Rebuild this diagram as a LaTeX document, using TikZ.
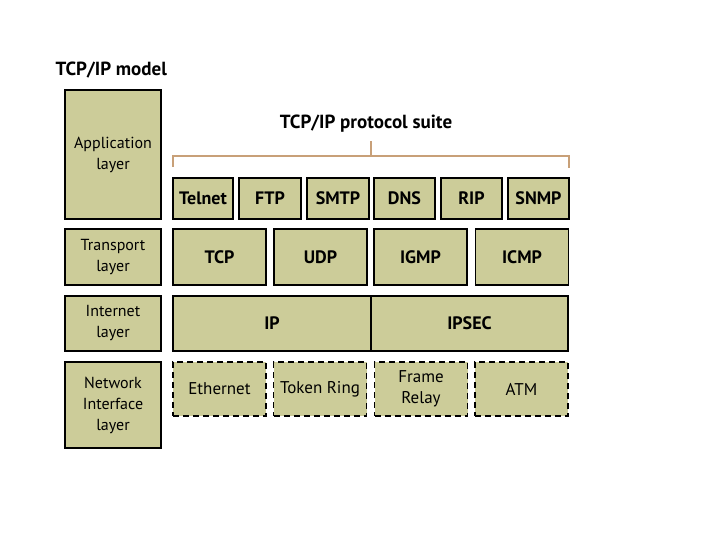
\documentclass[tikz,border=0pt]{standalone}
\usepackage{fontspec}
\setmainfont{PT Sans}
\definecolor{khaki}{RGB}{204,204,153}
\definecolor{bracketbrown}{RGB}{200,160,120}

\begin{document}
\begin{tikzpicture}[x=1pt, y=-1pt,
    layerbox/.style = {draw, line width=1.6pt, fill=khaki, inner sep=0pt, align=center,
                       font=\fontsize{16}{21}\selectfont},
    protobox/.style = {layerbox, font=\fontsize{18}{21}\selectfont\bfseries},
    linkbox/.style  = {layerbox, dash pattern=on 6pt off 4pt, font=\fontsize{17}{21}\selectfont}]
      \useasboundingbox (0,0) rectangle (720,540);
      % titles
      \node[anchor=west, font=\fontsize{19}{21}\selectfont\bfseries] (modeltitle) at (52,70) {TCP/IP model};
      \node[font=\fontsize{19}{21}\selectfont\bfseries] (suitetitle) at (366,124) {TCP/IP protocol suite};
      % model layers
      \node[layerbox, minimum width=96, minimum height=129] (app) at (113,154.5) {Application\\layer};
      \node[layerbox, minimum width=96, minimum height=56] (trans) at (113,257) {Transport\\layer};
      \node[layerbox, minimum width=96, minimum height=55] (inet) at (113,323.5) {Internet\\layer};
      \node[layerbox, minimum width=96, minimum height=86] (netif) at (113,405) {Network\\Interface\\layer};
      % application protocols
      \foreach \name/\x/\w/\txt in {telnet/203/60/Telnet, ftp/270/62/FTP, smtp/338/62/SMTP,
                                    dns/404.5/61/DNS, rip/471.5/61/RIP, snmp/538.5/61/SNMP} {
        \node[protobox, minimum width=\w, minimum height=41] (\name) at (\x,198.5) {\txt};
      }
      % transport protocols
      \foreach \name/\x/\txt in {tcp/219.5/TCP, udp/320.5/UDP, igmp/420.5/IGMP, icmp/522/ICMP} {
        \node[protobox, minimum width=93, minimum height=56] (\name) at (\x,257) {\txt};
      }
      % internet protocols
      \node[protobox, minimum width=198, minimum height=55] (ip) at (272,323.5) {IP};
      \node[protobox, minimum width=197, minimum height=55] (ipsec) at (469.5,323.5) {IPSEC};
      % network interface
      \foreach \name/\x/\txt in {ethernet/219.5/Ethernet, tokenring/320/Token Ring,
                                 framerelay/421/Frame\\Relay, atm/521.5/ATM} {
        \node[linkbox, minimum width=93, minimum height=54] (\name) at (\x,389) {\txt};
      }
      % bracket
      \coordinate (bl) at (173,167);
      \coordinate (br) at (569,168);
      \coordinate (btop) at (371,156);
      \coordinate (btick) at (371,141);
      \draw[bracketbrown, line width=1.6pt] (bl) |- (btop) -| (br);
      \draw[bracketbrown, line width=1.6pt] (btop) -- (btick);
    \end{tikzpicture}
\end{document}
